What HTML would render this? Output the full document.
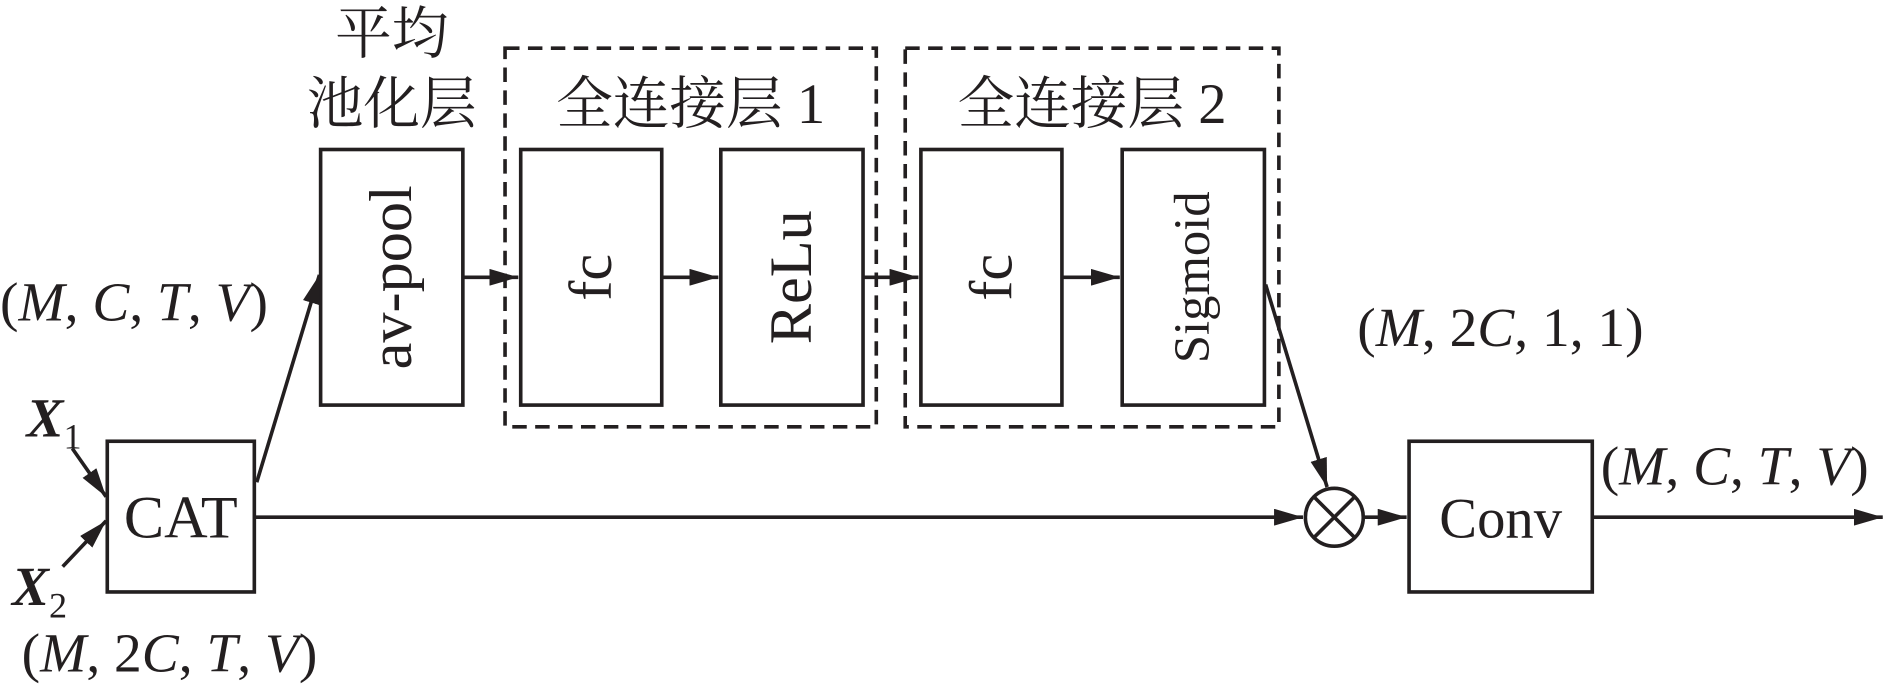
<!DOCTYPE html>
<html><head><meta charset="utf-8"><style>
html,body{margin:0;padding:0;background:#fff;}
svg{display:block;}
text{font-family:"Liberation Serif","Noto Serif CJK SC",serif;fill:#231f20;}
</style></head><body>
<svg width="1890" height="686" viewBox="0 0 1568 569" preserveAspectRatio="none" xmlns="http://www.w3.org/2000/svg">
<defs>
<marker id="b" markerWidth="24" markerHeight="14" refX="24" refY="7" orient="auto" markerUnits="userSpaceOnUse"><path d="M0,0 L24,7 L0,14 z" fill="#231f20"/></marker></defs>
<g stroke="#231f20" stroke-width="3" fill="none">
<rect x="266" y="124" width="118" height="212"/>
<rect x="432" y="124" width="117" height="212"/>
<rect x="598" y="124" width="118" height="212"/>
<rect x="764" y="124" width="117" height="212"/>
<rect x="931" y="124" width="118" height="212"/>
<rect x="89" y="366" width="122" height="125"/>
<rect x="1169" y="366" width="152" height="125"/>
<rect x="419" y="40" width="308" height="314" stroke-dasharray="12,7"/>
<rect x="751" y="40" width="310" height="314" stroke-dasharray="12,7"/>
<circle cx="1107" cy="429" r="24"/>
<line x1="1090" y1="412" x2="1124" y2="446"/><line x1="1124" y1="412" x2="1090" y2="446"/>
<g marker-end="url(#b)">
<line x1="384" y1="230" x2="430" y2="230"/>
<line x1="549" y1="230" x2="596" y2="230"/>
<line x1="716" y1="230" x2="762" y2="230"/>
<line x1="881" y1="230" x2="929" y2="230"/>
<line x1="211" y1="429" x2="1081" y2="429"/>
<line x1="1131" y1="429" x2="1167" y2="429"/>
<line x1="1321" y1="429" x2="1562" y2="429"/>
<line x1="213" y1="400" x2="265" y2="228"/>
<line x1="1050" y1="236" x2="1101" y2="404"/>
<line x1="60" y1="372" x2="88" y2="412"/>
<line x1="52" y1="470" x2="88" y2="432"/>
</g></g>
<g font-size="47" text-anchor="middle">
<text x="325" y="44">平均</text>
<text x="325" y="102">池化层</text>
<text x="573" y="102">全连接层 1</text>
<text x="906" y="102">全连接层 2</text>
<text x="150" y="446" font-size="50">CAT</text>
<text x="1245" y="446" font-size="47">Conv</text>
<text transform="translate(341,230) rotate(-90)" font-size="50">av-pool</text>
<text transform="translate(507,230) rotate(-90)" font-size="50">fc</text>
<text transform="translate(673,230) rotate(-90)" font-size="50">ReLu</text>
<text transform="translate(839,230) rotate(-90)" font-size="50">fc</text>
<text transform="translate(1003,230) rotate(-90)" font-size="42">Sigmoid</text>
</g>
<g font-size="46">
<text x="0" y="266">(<tspan font-style="italic">M</tspan>, <tspan font-style="italic">C</tspan>, <tspan font-style="italic">T</tspan>, <tspan font-style="italic">V</tspan>)</text>
<text x="1126" y="287">(<tspan font-style="italic">M</tspan>, 2<tspan font-style="italic">C</tspan>, 1, 1)</text>
<text x="1328" y="402">(<tspan font-style="italic">M</tspan>, <tspan font-style="italic">C</tspan>, <tspan font-style="italic">T</tspan>, <tspan font-style="italic">V</tspan>)</text>
<text x="18" y="557">(<tspan font-style="italic">M</tspan>, 2<tspan font-style="italic">C</tspan>, <tspan font-style="italic">T</tspan>, <tspan font-style="italic">V</tspan>)</text>
<text x="22" y="362" font-weight="bold" font-style="italic">X<tspan font-weight="normal" font-style="normal" font-size="30" dy="10">1</tspan></text>
<text x="10" y="502" font-weight="bold" font-style="italic">X<tspan font-weight="normal" font-style="normal" font-size="30" dy="10">2</tspan></text>
</g>
</svg>
</body></html>
